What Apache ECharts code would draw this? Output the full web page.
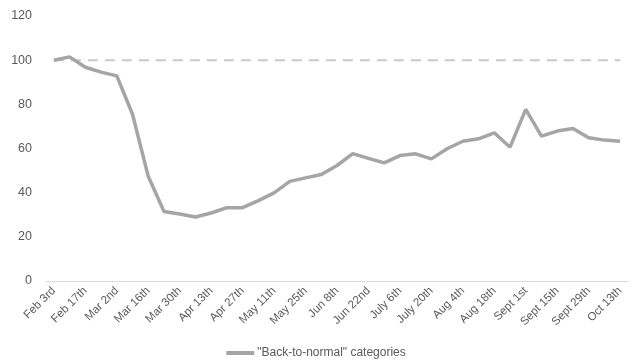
<!DOCTYPE html>
<html><head><meta charset="utf-8">
<script src="https://cdn.jsdelivr.net/npm/echarts@6/dist/echarts.min.js"></script>
<style>html,body{margin:0;padding:0;background:#fff}#c{width:632px;height:364px}</style>
</head><body><div id="c"></div>
<script>
const categories = ["Feb 3rd","Feb 10th","Feb 17th","Feb 24th","Mar 2nd","Mar 9th","Mar 16th","Mar 23rd","Mar 30th","Apr 6th","Apr 13th","Apr 20th","Apr 27th","May 4th","May 11th","May 18th","May 25th","Jun 1st","Jun 8th","Jun 15th","Jun 22nd","Jun 29th","July 6th","July 13th","July 20th","July 27th","Aug 4th","Aug 11th","Aug 18th","Aug 25th","Sept 1st","Sept 8th","Sept 15th","Sept 22nd","Sept 29th","Oct 6th","Oct 13th"];
const backToNormal = [100,101.5,96.8,94.6,92.9,75.5,47.4,31.5,30.3,29,30.8,33.2,33.2,36.4,39.9,45.1,46.7,48.2,52.3,57.7,55.5,53.5,56.8,57.6,55.3,59.9,63.3,64.4,67.1,60.6,77.7,65.6,67.9,69.1,64.9,63.8,63.3];
const baseline = categories.map(() => 100);
const yTicks = [0,20,40,60,80,100,120];
const font = "'Liberation Sans', 'DejaVu Sans', sans-serif";
const chart = echarts.init(document.getElementById('c'), null, {renderer:'canvas'});
chart.setOption({
  animation:false,
  grid:{left:46,right:4,top:16,bottom:83,containLabel:false},
  legend:{bottom:0,left:'center',itemWidth:28,itemHeight:4,icon:'rect',itemGap:4,
    data:[{name:'"Back-to-normal" categories'}],
    textStyle:{color:'#595959',fontSize:12,fontFamily:font,padding:[0,0,0,-2]}},
  xAxis:{type:'category',data:categories,boundaryGap:true,
    axisLine:{lineStyle:{color:'#d9d9d9',width:1}},
    axisTick:{show:false},
    axisLabel:{interval:1,rotate:45,color:'#595959',fontSize:11.5,fontFamily:font,margin:8}},
  yAxis:{type:'value',min:yTicks[0],max:yTicks[yTicks.length-1],interval:20,
    axisLine:{show:false},axisTick:{show:false},splitLine:{show:false},
    axisLabel:{color:'#595959',fontSize:12.5,fontFamily:font,margin:14}},
  series:[
    {name:'baseline',type:'line',data:baseline,symbol:'none',silent:true,
      lineStyle:{color:'#c9c9c9',width:2,type:[10,7]},z:1},
    {name:'"Back-to-normal" categories',type:'line',data:backToNormal,symbol:'none',
      lineStyle:{color:'#a5a5a5',width:3.5},itemStyle:{color:'#a5a5a5'},z:2}
  ]
});
</script></body></html>
